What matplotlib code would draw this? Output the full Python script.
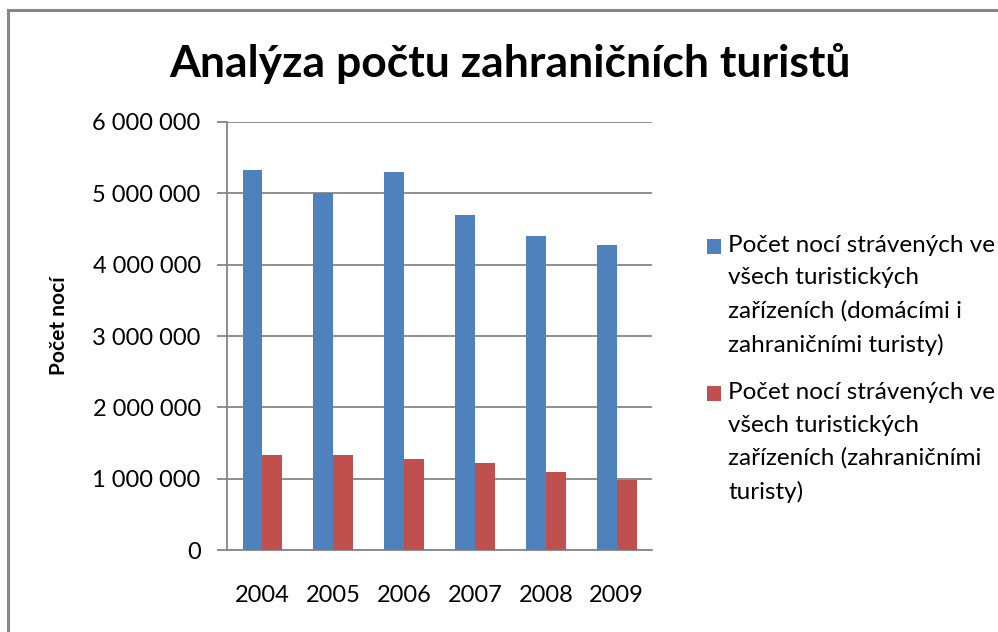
import matplotlib
matplotlib.use('Agg')
import matplotlib.pyplot as plt
import numpy as np
from matplotlib.patches import Rectangle
from matplotlib.legend_handler import HandlerPatch

# data
years = ['2004', '2005', '2006', '2007', '2008', '2009']
noci_vsichni = [5320000, 5000000, 5300000, 4700000, 4400000, 4280000]
noci_zahranicni = [1330000, 1335000, 1270000, 1220000, 1090000, 980000]
yticks = [0, 1000000, 2000000, 3000000, 4000000, 5000000, 6000000]
labels = ['Počet nocí strávených ve\nvšech turistických\nzařízeních (domácími i\nzahraničními turisty)',
          'Počet nocí strávených ve\nvšech turistických\nzařízeních (zahraničními\nturisty)']
title = 'Analýza počtu zahraničních turistů'

plt.rcParams['font.family'] = ['Lato', 'DejaVu Sans']

fig = plt.figure(figsize=(9.98, 6.32), dpi=100)
ax = fig.add_axes([0.2275, 0.1297, 0.4259, 0.6773])

x = np.arange(len(years))
w = 0.28
b1 = ax.bar(x - w / 2, noci_vsichni, w, color='#4F81BD', label=labels[0], zorder=3)
b2 = ax.bar(x + w / 2, noci_zahranicni, w, color='#C0504D', label=labels[1], zorder=3)

ax.set_xlim(-0.5, len(years) - 0.5)
ax.set_ylim(0, 6000000)
ax.set_yticks(yticks)
ax.set_yticklabels(['{:,}'.format(v).replace(',', ' ') for v in yticks])
ax.set_xticks(x)
ax.set_xticklabels(years)

# mrizka a osy
ax.grid(axis='y', color='#868686', linewidth=1.3, zorder=0)
for s in ['top', 'right']:
    ax.spines[s].set_visible(False)
for s in ['left', 'bottom']:
    ax.spines[s].set_color('#868686')
    ax.spines[s].set_linewidth(1.3)
ax.tick_params(axis='y', length=7, width=1.3, color='#868686', pad=12, labelsize=17)
ax.tick_params(axis='x', length=0, pad=25, labelsize=17)

ax.set_ylabel('Počet nocí', fontsize=15, fontweight='bold')
ax.yaxis.set_label_coords(-0.372, 0.523)

fig.text(0.511, 0.878, title, ha='center', va='baseline', fontsize=32, fontweight='bold')

fs = 17.5


# legenda - ctverecek u prvniho radku
def top_square(legend, orig_handle, xdescent, ydescent, width, height, fontsize):
    return Rectangle((-xdescent, -ydescent + 1.5 * fontsize * 1.337), width, height)


h1, h2 = b1.patches[0], b2.patches[0]
hm = {h1: HandlerPatch(patch_func=top_square), h2: HandlerPatch(patch_func=top_square)}
leg = fig.legend(handles=[h1, h2], labels=labels, handler_map=hm, loc='upper left',
                 bbox_to_anchor=(0.6964, 0.647), frameon=False, fontsize=fs, borderpad=0,
                 handlelength=0.57, handleheight=0.57, handletextpad=0.29, labelspacing=1.1)
for t in leg.get_texts():
    t.set_linespacing(1.66)

# ramecek grafu
fig.patches.append(Rectangle((8 / 998, -0.1), 1.2, 1 - 10 / 632 + 0.1, transform=fig.transFigure,
                             fill=False, edgecolor='#868686', linewidth=2.2))

plt.savefig('out.png', dpi=100)
